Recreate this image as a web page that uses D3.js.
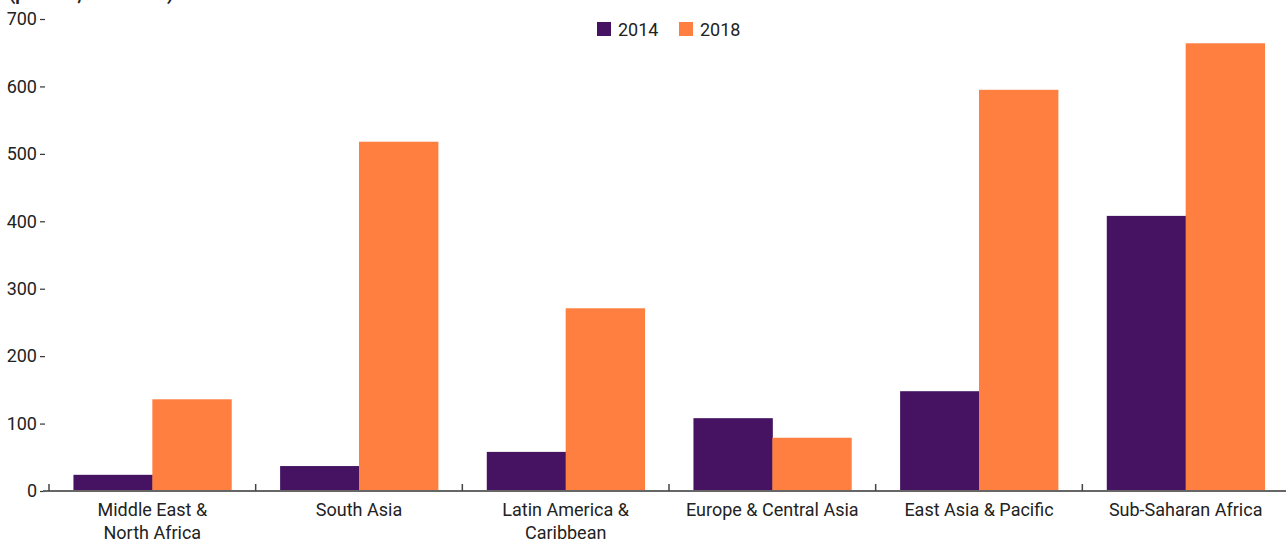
<!DOCTYPE html>
<html>
<head>
<meta charset="utf-8">
<script src="https://cdn.jsdelivr.net/npm/d3@7"></script>
<style>
  body { margin: 0; background: #fff; }
  text { font-family: Roboto, "Liberation Sans", sans-serif; fill: #222; }
</style>
</head>
<body>
<div id="chart"></div>
<script>
// data
let regions = [
    ["Middle East &", "North Africa"],
    ["South Asia"],
    ["Latin America &", "Caribbean"],
    ["Europe & Central Asia"],
    ["East Asia & Pacific"],
    ["Sub-Saharan Africa"]
];
let years = ["2014", "2018"];
let values2014 = [24, 37, 58, 108, 148, 408];
let values2018 = [136, 518, 271, 79, 595, 664];
let yTicks = [0, 100, 200, 300, 400, 500, 600, 700];
let colors = ["#451361", "#ff7f41"];

let svgWidth = 1286;
let svgHeight = 542;

let svg = d3.select("#chart")
    .append("svg")
    .attr("width", svgWidth)
    .attr("height", svgHeight);

let rows = regions.map((r, i) => ({ name: r, v: [values2014[i], values2018[i]] }));

// scales
let x0 = d3.scaleBand()
    .domain(d3.range(regions.length))
    .range([49, 1289])
    .padding(0);

let x1 = d3.scaleBand()
    .domain(d3.range(years.length))
    .range([0, x0.step()])
    .paddingInner(0)
    .paddingOuter(0.31);

let y = d3.scaleLinear()
    .domain([0, 700])
    .range([491, 19]);

// y axis title (cropped at the top, as in the source)
svg.append("text")
    .attr("x", 9)
    .attr("y", 0)
    .style("font-size", "18px")
    .style("font-weight", "bold")
    .text("(per 100,000 adults)");

// y axis
let yAxis = svg.append("g")
    .attr("transform", "translate(45,0)")
    .call(d3.axisLeft(y).tickValues(yTicks).tickSize(5).tickPadding(3));
yAxis.select(".domain").remove();
yAxis.selectAll(".tick line").attr("stroke", "#333").attr("stroke-width", 1.2);
yAxis.selectAll(".tick text")
    .style("font-size", "18px")
    .style("font-family", "Roboto, sans-serif")
    .attr("fill", "#222");

// bars
let groups = svg.append("g")
    .selectAll("g")
    .data(rows)
    .enter()
    .append("g")
    .attr("transform", (d, i) => `translate(${x0(i)},0)`);

groups.selectAll("rect")
    .data(d => d.v)
    .enter()
    .append("rect")
    .attr("x", (v, j) => x1(j))
    .attr("width", x1.bandwidth() + 0.5)
    .attr("y", v => y(v))
    .attr("height", v => y(0) - y(v))
    .style("fill", (v, j) => colors[j]);

// x axis line and boundary ticks
svg.append("line")
    .attr("x1", 43).attr("x2", svgWidth)
    .attr("y1", y(0)).attr("y2", y(0))
    .attr("stroke", "#666")
    .attr("stroke-width", 2);

svg.append("g")
    .selectAll("line")
    .data(d3.range(regions.length + 1))
    .enter()
    .append("line")
    .attr("x1", i => x0(0) + i * x0.step())
    .attr("x2", i => x0(0) + i * x0.step())
    .attr("y1", y(0) - 7)
    .attr("y2", y(0))
    .attr("stroke", "#444")
    .attr("stroke-width", 1.5);

// x labels
let labels = svg.append("g")
    .selectAll("text")
    .data(rows)
    .enter()
    .append("text")
    .attr("text-anchor", "middle")
    .attr("x", (d, i) => x0(i) + x0.step() / 2)
    .attr("y", 516)
    .style("font-size", "18px");

labels.selectAll("tspan")
    .data(d => d.name)
    .enter()
    .append("tspan")
    .attr("x", function () { return d3.select(this.parentNode).attr("x"); })
    .attr("dy", (t, k) => k === 0 ? 0 : 23)
    .text(t => t);

// legend
let legend = svg.append("g")
    .attr("transform", "translate(597,22)");

years.forEach((yr, j) => {
    let item = legend.append("g").attr("transform", `translate(${j * 82},0)`);
    item.append("rect")
        .attr("width", 14).attr("height", 14)
        .style("fill", colors[j]);
    item.append("text")
        .attr("x", 21)
        .attr("y", 13.5)
        .style("font-size", "18px")
        .text(yr);
});
</script>
</body>
</html>
